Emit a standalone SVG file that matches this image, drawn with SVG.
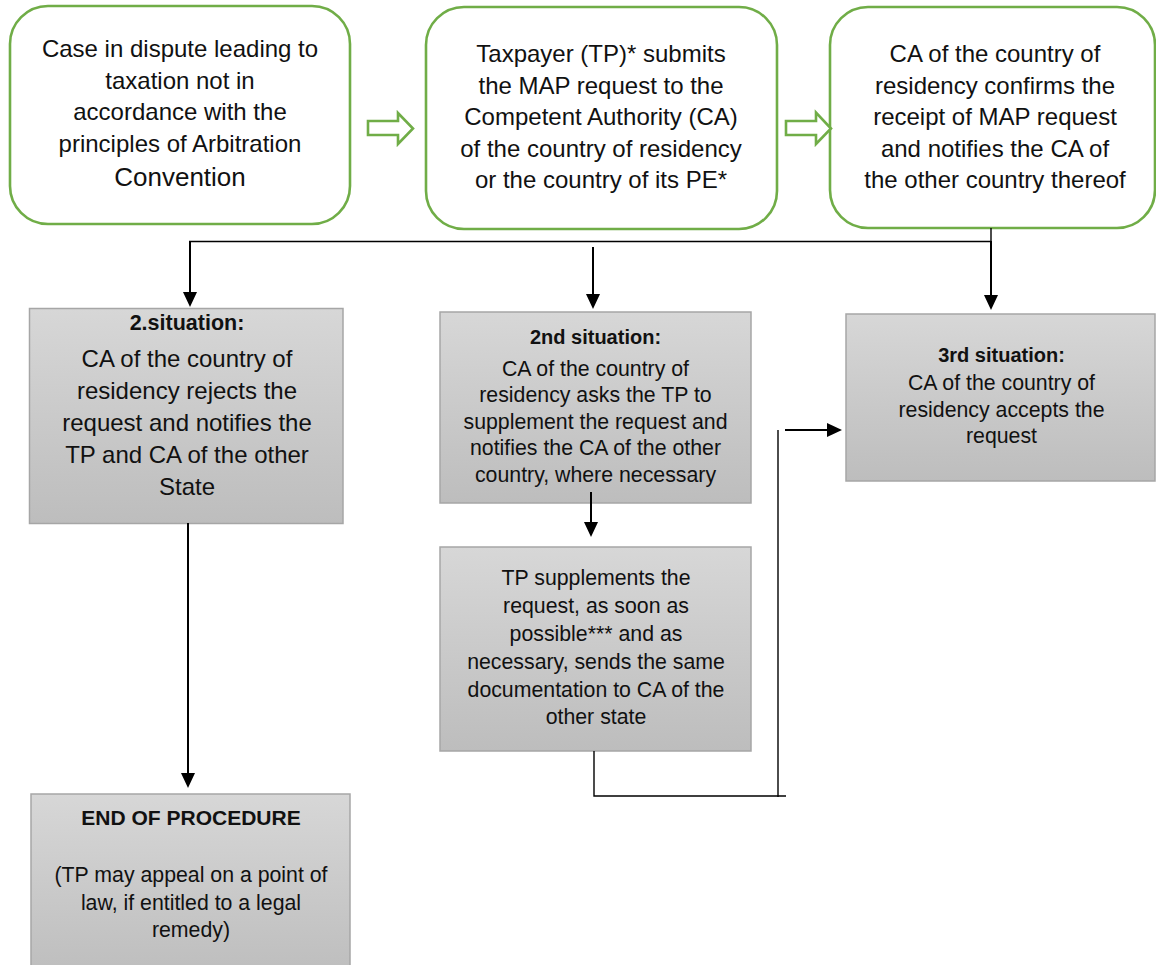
<svg xmlns="http://www.w3.org/2000/svg" width="1156" height="965" viewBox="0 0 1156 965">
  <defs>
    <linearGradient id="grayFill" x1="0" y1="0" x2="0" y2="1">
      <stop offset="0" stop-color="#d7d7d7"/>
      <stop offset="1" stop-color="#bdbdbd"/>
    </linearGradient>
    <marker id="head" viewBox="0 0 15 14" refX="0" refY="7" markerWidth="15" markerHeight="14" markerUnits="userSpaceOnUse" orient="auto">
      <path d="M0,0 L15,7 L0,14 Z" fill="#000"/>
    </marker>
    <style>
      .start { fill: #ffffff; stroke: #70ad47; stroke-width: 2.6; }
      .block { fill: #ffffff; stroke: #70ad47; stroke-width: 2.6; stroke-linejoin: miter; }
      .step { fill: url(#grayFill); stroke: #a6a6a6; stroke-width: 1.5; }
      text { font-family: "Liberation Sans", Arial, sans-serif; fill: #111; text-anchor: middle; }
      .big { font-size: 24px; }
      .mid { font-size: 21.3px; }
      .head { font-weight: bold; }
      .thin { fill: none; stroke: #000; stroke-width: 1.4; }
      .arrow { fill: none; stroke: #000; stroke-width: 2; marker-end: url(#head); }
    </style>
  </defs>

  <!-- top row: green rounded process boxes -->
  <g id="case-in-dispute">
    <rect class="start" x="10" y="6" width="340" height="218" rx="38"/>
    <text class="big" x="180" y="57">Case in dispute leading to</text>
    <text class="big" x="180" y="88.5">taxation not in</text>
    <text class="big" x="180" y="120">accordance with the</text>
    <text class="big" x="180" y="152">principles of Arbitration</text>
    <text x="180" y="186" font-size="26">Convention</text>
  </g>

  <g id="map-request">
    <rect class="start" x="426" y="7" width="351" height="222" rx="38"/>
    <text class="big" x="601" y="62">Taxpayer (TP)* submits</text>
    <text class="big" x="601" y="93.5">the MAP request to the</text>
    <text class="big" x="601" y="125">Competent Authority (CA)</text>
    <text class="big" x="601" y="157">of the country of residency</text>
    <text class="big" x="601" y="188">or the country of its PE*</text>
  </g>

  <g id="receipt-confirmed">
    <rect class="start" x="830" y="7" width="325" height="221" rx="38"/>
    <text class="big" x="995" y="62">CA of the country of</text>
    <text class="big" x="995" y="93.5">residency confirms the</text>
    <text class="big" x="995" y="125">receipt of MAP request</text>
    <text class="big" x="995" y="157">and notifies the CA of</text>
    <text class="big" x="995" y="188">the other country thereof</text>
  </g>

  <!-- hollow block arrows between the top boxes -->
  <g id="block-arrows">
    <polygon class="block" points="368,121 398,121 398,113 413,128.5 398,144 398,135 368,135"/>
    <polygon class="block" points="786,121 816,121 816,112.5 831,128.5 816,144 816,135 786,135"/>
  </g>

  <!-- grey outcome boxes -->
  <g id="rejected">
    <rect class="step" x="29.5" y="308.5" width="313.5" height="215"/>
    <text class="head" x="187" y="330" font-size="21.5">2.situation:</text>
    <text class="big" x="187" y="367">CA of the country of</text>
    <text class="big" x="187" y="399">residency rejects the</text>
    <text class="big" x="187" y="431">request and notifies the</text>
    <text class="big" x="187" y="463">TP and CA of the other</text>
    <text class="big" x="187" y="495">State</text>
  </g>

  <g id="supplement-asked">
    <rect class="step" x="440" y="312" width="311" height="191"/>
    <text class="head" x="595.5" y="344" font-size="20">2nd situation:</text>
    <text class="mid" x="595.5" y="375.5">CA of the country of</text>
    <text class="mid" x="595.5" y="402">residency asks the TP to</text>
    <text class="mid" x="595.5" y="428.5">supplement the request and</text>
    <text class="mid" x="595.5" y="455">notifies the CA of the other</text>
    <text class="mid" x="595.5" y="481.5">country, where necessary</text>
  </g>

  <g id="accepted">
    <rect class="step" x="846" y="314" width="309" height="167"/>
    <text class="head" x="1001.5" y="362" font-size="20">3rd situation:</text>
    <text class="mid" x="1001.5" y="390">CA of the country of</text>
    <text class="mid" x="1001.5" y="416.5">residency accepts the</text>
    <text class="mid" x="1001.5" y="443">request</text>
  </g>

  <g id="tp-supplements">
    <rect class="step" x="440" y="547" width="311" height="204"/>
    <text class="mid" x="596" y="585">TP supplements the</text>
    <text class="mid" x="596" y="613">request, as soon as</text>
    <text class="mid" x="596" y="641">possible*** and as</text>
    <text class="mid" x="596" y="668.5">necessary, sends the same</text>
    <text class="mid" x="596" y="696.5">documentation to CA of the</text>
    <text class="mid" x="596" y="724">other state</text>
  </g>

  <g id="end-of-procedure">
    <rect class="step" x="31" y="794" width="319" height="185"/>
    <text class="head" x="191" y="825" font-size="21">END OF PROCEDURE</text>
    <text class="mid" x="191" y="882">(TP may appeal on a point of</text>
    <text class="mid" x="191" y="910">law, if entitled to a legal</text>
    <text class="mid" x="191" y="937">remedy)</text>
  </g>

  <!-- connectors -->
  <g id="connectors">
    <line class="thin" x1="189" y1="241.5" x2="991" y2="241.5"/>
    <line class="thin" x1="991" y1="228" x2="991" y2="242"/>
    <line class="arrow" x1="190" y1="241" x2="190" y2="292"/>
    <line class="arrow" x1="593" y1="247" x2="593" y2="294"/>
    <line class="arrow" x1="991" y1="241" x2="991" y2="295"/>
    <line class="arrow" x1="591" y1="492" x2="591" y2="522"/>
    <line class="arrow" x1="188" y1="523" x2="188" y2="773"/>
    <polyline class="thin" points="594,751 594,796 786,796"/>
    <line class="thin" x1="778" y1="430" x2="778" y2="797"/>
    <line class="arrow" x1="785" y1="430" x2="827" y2="430"/>
  </g>
</svg>
